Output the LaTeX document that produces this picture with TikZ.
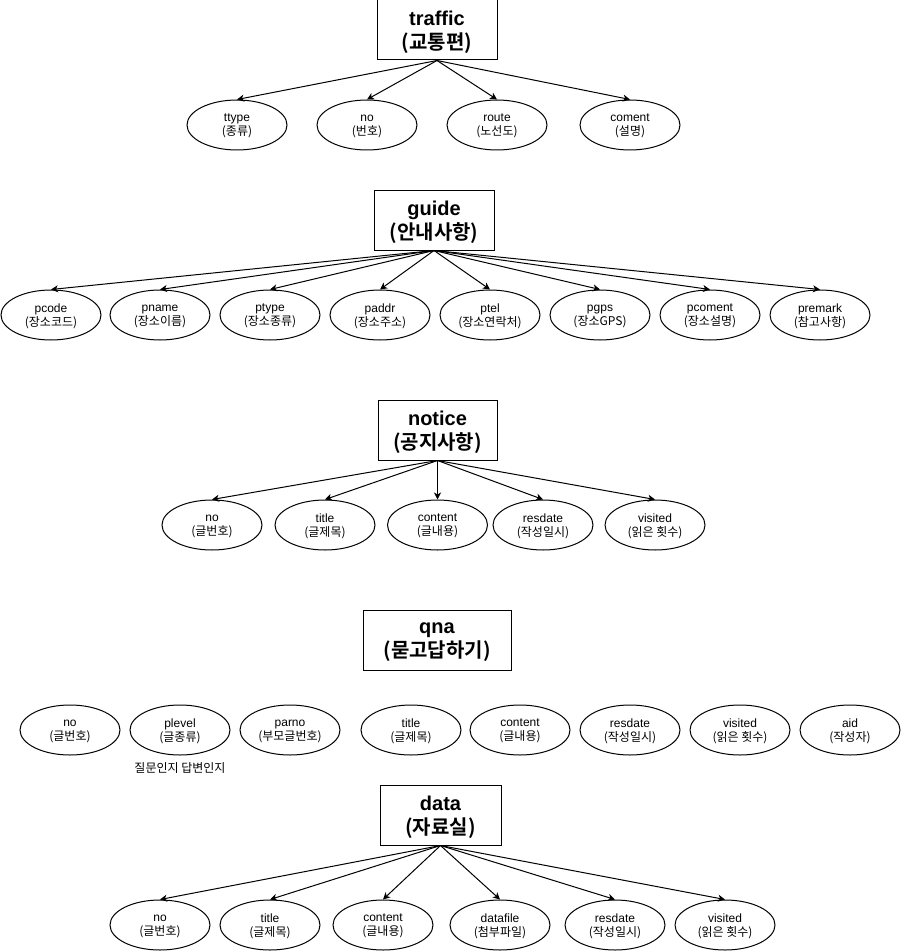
\documentclass[tikz,border=0pt]{standalone}
\usepackage{fontspec}
\setmainfont{Liberation Sans}
\newfontfamily\krfont{Noto Sans CJK KR}[BoldFont={Noto Sans CJK KR Bold}]
\usetikzlibrary{shapes.geometric,arrows.meta}
\tikzset{
  tbl/.style={draw=black,line width=1pt,rectangle,minimum width=120pt,minimum height=60pt,inner sep=0pt,text depth=0pt,align=center,font=\fontsize{20}{24}\selectfont\bfseries},
  attr/.style={draw=black,line width=1pt,ellipse,minimum width=100pt,minimum height=50pt,inner sep=0pt,text depth=0pt,align=center,font=\fontsize{12}{14}\selectfont},
  note/.style={inner sep=0pt,font=\fontsize{12}{14}\selectfont\krfont},
  arr/.style={draw=black,line width=1pt,-{Stealth[length=7pt,width=7pt,inset=2pt]}}
}
\newcommand{\two}[2]{#1\\{\krfont #2}}
\begin{document}
\begin{tikzpicture}[x=1pt,y=-1pt]
\useasboundingbox[fill=white] (0,0) rectangle (902,952);
% traffic
\node[tbl] (tr) at (437,30) {\two{traffic}{(교통편)}};
\node[attr] (tr1) at (237,125) {\two{ttype}{(종류)}};
\node[attr] (tr2) at (367,125) {\two{no}{(번호)}};
\node[attr] (tr3) at (497,125) {\two{route}{(노선도)}};
\node[attr] (tr4) at (630,125) {\two{coment}{(설명)}};
\foreach \i in {1,...,4} \draw[arr] (tr.south) -- (tr\i.north);
% guide
\node[tbl] (gu) at (434,220) {\two{guide}{(안내사항)}};
\node[attr] (gu1) at (51,315) {\two{pcode}{(장소코드)}};
\node[attr] (gu2) at (160,315) {\two{pname}{(장소이름)}};
\node[attr] (gu3) at (270,315) {\two{ptype}{(장소종류)}};
\node[attr] (gu4) at (380,315) {\two{paddr}{(장소주소)}};
\node[attr] (gu5) at (490,315) {\two{ptel}{(장소연락처)}};
\node[attr] (gu6) at (600,315) {\two{pgps}{(장소GPS)}};
\node[attr] (gu7) at (710,315) {\two{pcoment}{(장소설명)}};
\node[attr] (gu8) at (820,315) {\two{premark}{(참고사항)}};
\foreach \i in {1,...,8} \draw[arr] (gu.south) -- (gu\i.north);
% notice
\node[tbl,minimum width=119pt] (no) at (437.5,430) {\two{notice}{(공지사항)}};
\node[attr] (no1) at (212,525) {\two{no}{(글번호)}};
\node[attr] (no2) at (325,525) {\two{title}{(글제목)}};
\node[attr] (no3) at (437.5,525) {\two{content}{(글내용)}};
\node[attr] (no4) at (543,525) {\two{resdate}{(작성일시)}};
\node[attr] (no5) at (655,525) {\two{visited}{(읽은 횟수)}};
\foreach \i in {1,...,5} \draw[arr] (no.south) -- (no\i.north);
% qna
\node[tbl,minimum width=148pt] (qn) at (437,640) {\two{qna}{(묻고답하기)}};
\node[attr] (qn1) at (70,730) {\two{no}{(글번호)}};
\node[attr] (qn2) at (180,730) {\two{plevel}{(글종류)}};
\node[attr] (qn3) at (290,730) {\two{parno}{(부모글번호)}};
\node[attr] (qn4) at (411,730) {\two{title}{(글제목)}};
\node[attr] (qn5) at (520,730) {\two{content}{(글내용)}};
\node[attr] (qn6) at (630,730) {\two{resdate}{(작성일시)}};
\node[attr] (qn7) at (740,730) {\two{visited}{(읽은 횟수)}};
\node[attr] (qn8) at (850,730) {\two{aid}{(작성자)}};
\node[note] (qnn) at (180,768) {질문인지 답변인지};
% data
\node[tbl,minimum width=121pt] (da) at (440.5,815) {\two{data}{(자료실)}};
\node[attr] (da1) at (160,925) {\two{no}{(글번호)}};
\node[attr] (da2) at (270,925) {\two{title}{(글제목)}};
\node[attr] (da3) at (383,925) {\two{content}{(글내용)}};
\node[attr] (da4) at (500,925) {\two{datafile}{(첨부파일)}};
\node[attr] (da5) at (615,925) {\two{resdate}{(작성일시)}};
\node[attr] (da6) at (725,925) {\two{visited}{(읽은 횟수)}};
\foreach \i in {1,...,6} \draw[arr] (da.south) -- (da\i.north);
\end{tikzpicture}
\end{document}
